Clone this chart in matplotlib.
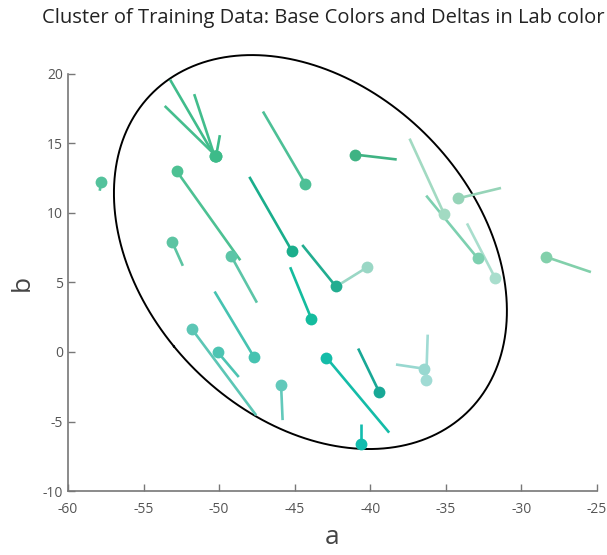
import numpy as np
import matplotlib.pyplot as plt

plt.rcParams['font.family'] = ['Open Sans', 'DejaVu Sans']
plt.rcParams['axes.unicode_minus'] = False

# base colour (a, b) of each training sample
base_a = [-57.8, -50.3, -50.2, -50.3, -50.2, -52.8, -53.1, -49.2, -44.3, -41.0,
          -45.2, -42.3, -40.2, -43.9, -51.8, -50.1, -47.7, -45.9, -42.9, -39.4,
          -40.6, -36.45, -36.3, -35.1, -34.2, -32.9, -31.75, -28.4]
base_b = [12.2, 14.1, 14.1, 14.1, 14.1, 13.0, 7.9, 6.9, 12.1, 14.2,
          7.3, 4.75, 6.1, 2.4, 1.65, 0.0, -0.35, -2.4, -0.4, -2.9,
          -6.6, -1.2, -2.0, 9.9, 11.05, 6.75, 5.35, 6.85]
# base + delta
end_a = [-57.9, -53.25, -53.6, -51.65, -49.95, -48.6, -52.4, -47.5, -47.1, -38.25,
         -48.0, -44.5, -41.9, -45.3, -47.55, -48.7, -50.3, -45.8, -38.75, -40.8,
         -40.6, -38.3, -36.2, -37.4, -31.35, -36.3, -33.6, -25.4]
end_b = [11.6, 19.6, 17.7, 18.55, 15.6, 6.6, 6.2, 3.55, 17.3, 13.85,
         12.6, 7.7, 4.95, 6.1, -4.55, -1.8, 4.35, -4.9, -5.8, 0.25,
         -5.2, -0.9, 1.25, 15.35, 11.8, 11.25, 9.25, 5.75]
colors = ['#54c29c', '#40bc8b', '#45be8e', '#42bd8c', '#3dbb89', '#4dc193', '#5cc4a2', '#5cc5a7',
          '#4dc096', '#3fb383', '#1aae8c', '#22ad90', '#9ad7c5', '#14bc9e', '#5cc6b5', '#4dc4b2',
          '#46c3b1', '#62c9bb', '#14bca8', '#18a896', '#12bcae', '#98d8d0', '#a0dbd4', '#a2dac2',
          '#96d4b8', '#7dd0b0', '#a9decd', '#82d0ab']

# cluster ellipse (centre and covariance in a/b)
ell_center = [-43.96, 7.19]
ell_cov = [[169.0, -55.0], [-55.0, 200.8]]

fig = plt.figure(figsize=(6.07, 5.55), dpi=100)
ax = fig.add_axes([0.112, 0.1153, 0.8715, 0.7514])

for i in range(len(base_a)):
    ax.plot([base_a[i], end_a[i]], [base_b[i], end_b[i]], color=colors[i], lw=1.9,
            solid_capstyle='butt', zorder=2)
    ax.plot(base_a[i], base_b[i], 'o', color=colors[i], ms=8.5, mec='none', zorder=3)

# ellipse outline
vals, vecs = np.linalg.eigh(np.array(ell_cov))
t = np.linspace(0, 2 * np.pi, 400)
circ = np.vstack([np.cos(t), np.sin(t)])
pts = vecs @ (np.sqrt(vals)[:, None] * circ)
ax.plot(ell_center[0] + pts[0], ell_center[1] + pts[1], color='black', lw=1.4, zorder=1,
        clip_on=False)

ax.set_xlim(-60, -25)
ax.set_ylim(-10, 20)
ax.set_xticks(np.arange(-60, -24, 5))
ax.set_yticks(np.arange(-10, 21, 5))
for s in ['top', 'right']:
    ax.spines[s].set_visible(False)
for s in ['left', 'bottom']:
    ax.spines[s].set_color('#777777')
    ax.spines[s].set_linewidth(1.2)
ax.tick_params(direction='in', length=5, width=1, color='#777777', labelcolor='#555555',
               labelsize=10)
ax.tick_params(axis='x', pad=8)
ax.set_xlabel('a', fontsize=19, color='#444444', labelpad=6)
ax.set_ylabel('b', fontsize=19, color='#444444', labelpad=6)

fig.text(42 / 607, 1 - 18 / 555, 'Cluster of Training Data: Base Colors and Deltas in Lab color space',
         fontsize=14.5, color='#222222', ha='left', va='center')

fig.savefig('out.png', dpi=100)
